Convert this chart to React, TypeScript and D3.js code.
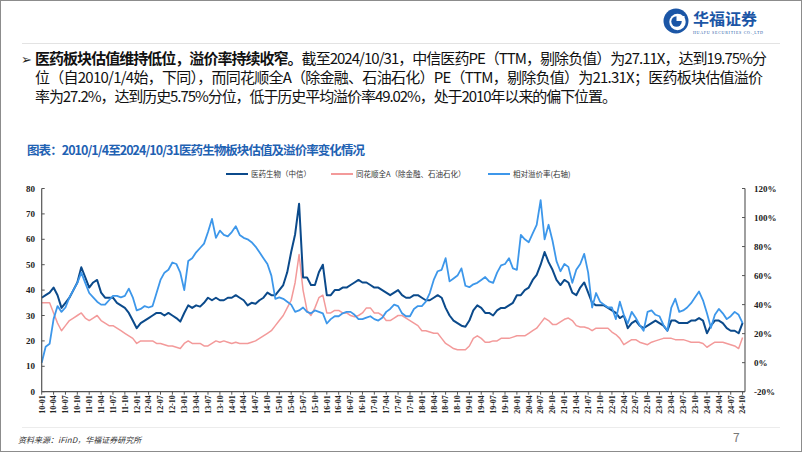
import React from 'react'
import * as d3 from 'd3'

// monthly readings, 2010-01 .. 2024-10 (one value per month)
const med = [
  // 2010
  37, 38, 39, 41, 38, 33, 35, 37, 40, 43, 49, 45,
  // 2011
  41, 43, 44, 39, 37, 37, 37, 35, 34, 33, 31, 28,
  // 2012
  25, 27, 28, 29, 30, 31, 31, 30, 31, 30, 29, 27.6,
  // 2013
  31, 34, 33, 34, 33.5, 35, 37, 36, 37, 36, 36, 37,
  // 2014
  37, 38, 37, 36, 34, 35, 34.6, 36, 37, 39, 38, 38,
  // 2015
  40, 42, 47, 55, 62, 74, 45, 45, 42, 42, 47, 50,
  // 2016
  38, 38, 40, 40, 41, 41, 42, 43, 44, 43, 43, 42,
  // 2017
  41, 41, 40, 39, 38, 39, 40, 38, 37, 37, 38, 38,
  // 2018
  37, 36, 36, 37, 38, 37, 33, 30, 28, 27, 26, 25.6,
  // 2019
  28, 32, 34, 33, 31, 31, 30, 32, 33, 33, 34, 35,
  // 2020
  38, 38, 40, 41, 44, 46, 50, 55, 51, 48, 44, 42,
  // 2021
  44, 43, 39, 38, 41, 43, 39, 35, 34, 34, 34, 33,
  // 2022
  32, 31, 29, 30, 25, 27, 28, 26, 25, 26, 27, 28,
  // 2023
  27, 26, 24, 28, 28, 27, 27, 27, 28, 28, 29, 28,
  // 2024
  23, 26, 28, 28, 27, 25, 24, 24, 23, 27.11,
]

const allA = [
  35, 35, 35, 31, 27, 24, 26, 28, 29, 30, 31, 29,
  28, 29, 30, 28, 27, 26, 26, 25, 24, 23, 22, 21,
  19, 20, 20, 20, 20, 19, 19, 18.5, 18, 18, 17.5, 17,
  19, 20, 19, 19, 19, 18, 18, 19, 20, 19.5, 20, 19.5,
  19, 19.5, 19, 19, 19, 19.5, 20, 21, 22, 23, 24, 26,
  28, 30, 33, 36, 43, 54, 40, 32, 30, 33, 37, 38,
  31, 31, 32, 32, 31, 31, 30, 29.5, 30, 31, 33, 33,
  31, 31, 30, 28, 28, 29, 30, 30, 29, 28, 27, 26,
  24, 24, 23.5, 23, 23, 21, 19, 18, 17, 16.5, 16.5, 16.5,
  18, 21, 22, 21, 19.5, 19.5, 20, 20, 21, 21, 21, 21.5,
  22, 22, 22, 23, 24, 25, 27, 29, 28, 26.5, 26.5, 27.5,
  28.5, 29, 28, 26, 25.5, 25.5, 25, 24, 25, 25, 25, 25,
  23.5, 22.5, 21, 18.5, 19.5, 20.5, 20.5, 19.5, 19, 18.5, 19.5, 20,
  20.5, 21, 21, 21, 20.5, 20.5, 20.5, 20, 19.5, 19.5, 19.5, 19,
  17.5, 18.5, 19.5, 19.5, 19.5, 19, 18.5, 18, 17, 21.31,
]

const premium = [
  0, 11, 13, 30, 39, 35, 38, 45, 50, 55, 62, 55,
  48, 45, 42, 40, 40, 43, 46, 46, 45, 46, 51, 45,
  36, 37, 39, 38, 39, 48, 57, 62, 64, 69, 68, 62,
  50, 70, 72, 76, 79, 82, 90, 99, 86, 91, 88, 87,
  90, 94, 88, 86, 85, 83, 80, 76, 72, 68, 60, 44,
  45, 44, 42, 40, 35, 36, 38, 35, 34, 36, 35, 34,
  27, 30, 32, 32, 34, 35, 35, 33, 30, 30, 31, 32,
  30, 29, 31, 35, 37, 40, 39, 34, 32, 32, 37, 39,
  39, 42, 48, 57, 63, 64, 72, 56, 58, 60, 65, 53,
  52, 54, 55, 57, 59, 56, 55, 62, 67, 68, 72, 65,
  64, 88, 85, 83, 89, 95, 112, 85, 95, 84, 70, 63,
  68, 66, 55, 64, 68, 75, 62, 38, 48, 42, 40, 38,
  38, 30, 42, 33, 27, 35, 31, 26, 22, 35, 36, 33,
  32, 26, 22, 38, 44, 35, 36, 38, 41, 45, 49, 43,
  34, 24, 33, 37, 34, 30, 32, 35, 33, 27.2,
]

const years = d3.range(10, 25)
const quarterMonths = ['01', '04', '07', '10']
const leftTicks = [0, 10, 20, 30, 40, 50, 60, 70, 80]
const rightTicks = [-20, 0, 20, 40, 60, 80, 100, 120]

const seriesNames = ['医药生物（中信）', '同花顺全A（除金融、石油石化）', '相对溢价率(右轴)']
const colors = ['#0b4a8b', '#f39a9a', '#3d97ea']

const paragraph = [
  '截至2024/10/31，中信医药PE（TTM，剔除负值）为27.11X，达到19.75%分',
  '位（自2010/1/4始，下同），而同花顺全A（除金融、石油石化）PE（TTM，剔除负值）为21.31X；医药板块估值溢价',
  '率为27.2%，达到历史5.75%分位，低于历史平均溢价率49.02%，处于2010年以来的偏下位置。',
]

const cjk = '"Noto Sans CJK SC", "Noto Sans", sans-serif'
const serif = '"Liberation Serif", "DejaVu Serif", serif'

export default function App() {
  const left = 41.7
  const right = 745
  const bottom = 391.7
  const top = 188.5

  const x = d3.scaleLinear().domain([0, 177]).range([left, 742.6])
  const yL = d3.scaleLinear().domain([0, 80]).range([bottom, top])
  const yR = d3.scaleLinear().domain([-20, 120]).range([bottom, top])

  const lineL = d3.line<number>().x((_, i) => x(i)).y(d => yL(d))
  const lineR = d3.line<number>().x((_, i) => x(i)).y(d => yR(d))

  const xTicks: { i: number; label: string }[] = []
  years.forEach((yy, yi) =>
    quarterMonths.forEach((m, qi) => {
      const i = yi * 12 + qi * 3
      if (i <= 177) xTicks.push({ i, label: `${yy}-${m}` })
    })
  )

  const legendX = [226, 331, 488]

  return (
    <svg
      width={802}
      height={452}
      style={{ position: 'absolute', left: 0, top: 0, background: '#fff' }}
    >
      <rect x={0.5} y={0.5} width={801} height={451} fill="#fff" stroke="#8c8c8c" />

      {/* logo */}
      <g>
        <circle cx={676} cy={21} r={12.5} fill="#1b56a6" />
        <circle cx={677.5} cy={22} r={8.2} fill="#fff" />
        <circle cx={676.5} cy={21.5} r={5.2} fill="#1b56a6" />
        <rect x={676.5} y={16} width={8} height={5} fill="#fff" />
        <text x={693} y={25} fontFamily={cjk} fontWeight={700} fontSize={16} fill="#1b56a6">
          华福证券
        </text>
        <text x={693} y={34} fontFamily={serif} fontSize={4} fill="#1b56a6" textLength={70}>
          HUAFU SECURITIES CO.,LTD
        </text>
      </g>
      <line x1={22} x2={780} y1={43.5} y2={43.5} stroke="#e3e3e3" />

      {/* paragraph */}
      <text x={21} y={64} fontFamily={cjk} fontSize={13} fill="#222">➢</text>
      <text x={35} y={64} fontFamily={cjk} fontSize={15} fill="#111" textLength={732}>
        <tspan fontWeight={700}>医药板块估值维持低位，溢价率持续收窄。</tspan>
        {paragraph[0]}
      </text>
      <text x={35} y={83} fontFamily={cjk} fontSize={15} fill="#111" textLength={728}>
        {paragraph[1]}
      </text>
      <text x={35} y={102} fontFamily={cjk} fontSize={15} fill="#111" textLength={582}>
        {paragraph[2]}
      </text>

      {/* chart title */}
      <text x={27} y={155} fontFamily={cjk} fontWeight={700} fontSize={12.5} fill="#1f62b3" textLength={338}>
        图表：2010/1/4至2024/10/31医药生物板块估值及溢价率变化情况
      </text>

      {/* legend */}
      {seriesNames.map((name, k) => (
        <g key={name} transform={`translate(${legendX[k]},174)`}>
          <line x1={0} x2={22} y1={0} y2={0} stroke={colors[k]} strokeWidth={2} />
          <text x={25} y={3} fontFamily={cjk} fontSize={7.5} fill="#333">
            {name}
          </text>
        </g>
      ))}

      {/* series */}
      <path d={lineL(allA) ?? ''} fill="none" stroke={colors[1]} strokeWidth={1.5} strokeLinejoin="round" />
      <path d={lineL(med) ?? ''} fill="none" stroke={colors[0]} strokeWidth={2} strokeLinejoin="round" />
      <path d={lineR(premium) ?? ''} fill="none" stroke={colors[2]} strokeWidth={1.8} strokeLinejoin="round" />

      {/* left axis */}
      <line x1={left} x2={left} y1={top} y2={bottom} stroke="#555" strokeWidth={1.2} />
      {leftTicks.map(t => (
        <g key={t}>
          <line x1={left} x2={left + 3} y1={yL(t)} y2={yL(t)} stroke="#555" />
          <text
            x={35}
            y={yL(t) + 3}
            textAnchor="end"
            fontFamily={serif}
            fontWeight={700}
            fontSize={9}
            fill="#222"
          >
            {t}
          </text>
        </g>
      ))}

      {/* right axis */}
      <line x1={right} x2={right} y1={top} y2={bottom} stroke="#777" strokeWidth={1.4} />
      {rightTicks.map(t => (
        <g key={t}>
          <line x1={right - 3} x2={right} y1={yR(t)} y2={yR(t)} stroke="#555" />
          <text
            x={754}
            y={yR(t) + 3}
            fontFamily={serif}
            fontWeight={700}
            fontSize={9}
            fill="#222"
          >
            {t}%
          </text>
        </g>
      ))}

      {/* x axis */}
      <line x1={left} x2={right} y1={bottom} y2={bottom} stroke="#555" strokeWidth={1.2} />
      {xTicks.map(t => (
        <g key={t.label}>
          <line x1={x(t.i)} x2={x(t.i)} y1={bottom} y2={bottom + 3} stroke="#555" />
          <text
            transform={`translate(${x(t.i) + 2.8},${bottom + 3.5}) rotate(-90)`}
            textAnchor="end"
            fontFamily={serif}
            fontWeight={700}
            fontSize={8}
            fill="#222"
          >
            {t.label}
          </text>
        </g>
      ))}

      {/* footer */}
      <line x1={22} x2={780} y1={427.5} y2={427.5} stroke="#ececec" />
      <text x={18} y={443} fontFamily={cjk} fontStyle="italic" fontSize={8} fill="#333">
        资料来源：iFinD，华福证券研究所
      </text>
      <text x={733} y={442} fontFamily={cjk} fontSize={12} fill="#777">
        7
      </text>
    </svg>
  )
}
